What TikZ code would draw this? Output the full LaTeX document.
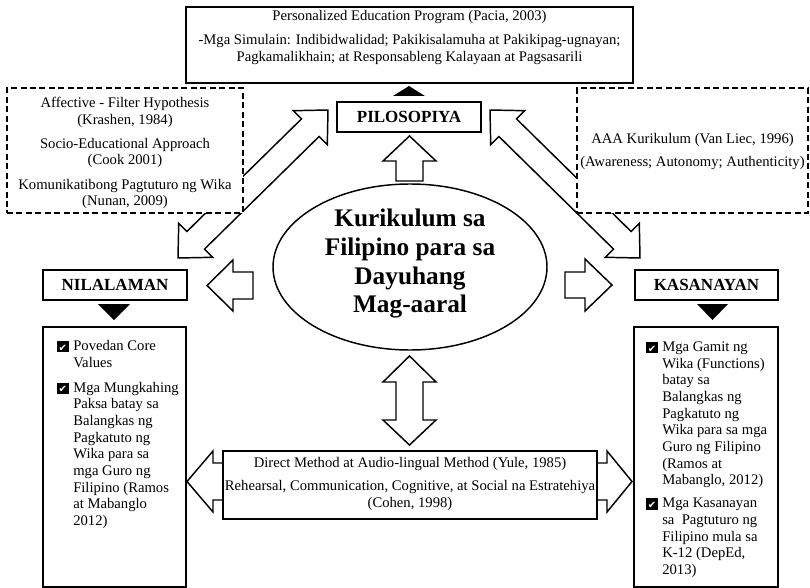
\documentclass[tikz,border=0pt]{standalone}
\usepackage{fontspec}
\setmainfont{Liberation Serif}
\newfontfamily\symfont{DejaVu Sans}
\usetikzlibrary{shapes.geometric}
\newcommand\chk{\makebox[12pt][l]{\makebox[0pt][l]{\raisebox{-1.2pt}{\rule{8.5pt}{8.5pt}}}\makebox[8.5pt][c]{\raisebox{-0.3pt}{\color{white}\symfont\fontsize{7.5}{7.5}\selectfont ✔}}}}
\begin{document}
\begin{tikzpicture}[x=0.75pt,y=-0.75pt,
  box/.style={draw, line width=1.3pt, fill=white, inner sep=0pt},
  dbox/.style={draw, line width=1.3pt, dash pattern=on 4.5pt off 2.6pt, fill=white, inner sep=0pt},
  txt/.style={align=center, inner sep=0pt, font=\fontsize{11}{12.5}\selectfont},
  lbl/.style={box, font=\bfseries\fontsize{12.75}{15}\selectfont, minimum height=22.5pt},
  blk/.style={draw, line width=1.1pt, fill=white, line join=miter},
  tri/.style={fill=black},
  lst/.style={anchor=north west, inner sep=0pt, align=left, font=\fontsize{11}{12.5}\selectfont}]
\fill[white] (0,0) rectangle (810,588);
\useasboundingbox (0,0) rectangle (810,588);

% block arrows
\draw[blk] (328,110) -- (327.3,144.7) -- (319.1,136.5) -- (204.5,249.1) -- (212.7,257.3) -- (178,258) -- (178.7,223.3) -- (186.9,231.5) -- (301.5,118.9) -- (293.3,110.7) -- cycle;
\draw[blk] (490,110) -- (490.7,144.7) -- (498.9,136.5) -- (613.5,249.1) -- (605.3,257.3) -- (640,258) -- (639.3,223.3) -- (631.1,231.5) -- (516.5,118.9) -- (524.7,110.7) -- cycle;
\draw[blk] (409.5,136) -- (436,161) -- (423,161) -- (423,181) -- (396,181) -- (396,161) -- (383,161) -- cycle;
\draw[blk] (409.5,356) -- (436,382) -- (423,382) -- (423,420) -- (436,420) -- (409.5,445) -- (383,420) -- (396,420) -- (396,382) -- (383,382) -- cycle;
\draw[blk] (207,285.5) -- (233,260) -- (233,272) -- (253,272) -- (253,299) -- (233,299) -- (233,311) -- cycle;
\draw[blk] (612,285) -- (585,259) -- (585,272) -- (565,272) -- (565,298) -- (585,298) -- (585,311) -- cycle;
\draw[blk] (187,481.5) -- (213,451) -- (213,463) -- (223,463) -- (223,500) -- (213,500) -- (213,512) -- cycle;
\draw[blk] (632,481.5) -- (607,451) -- (607,463) -- (597,463) -- (597,500) -- (607,500) -- (607,512) -- cycle;

% dashed boxes
\node[dbox, minimum width=177pt, minimum height=93.75pt] (lframe) at (125,150.5) {};
\node[txt] (ltext) at (125,153) {Affective - Filter Hypothesis\\(Krashen, 1984)\\[5.7pt]Socio-Educational Approach\\(Cook 2001)\\[5.7pt]Komunikatibong Pagtuturo ng Wika\\(Nunan, 2009)};
\node[dbox, minimum width=173.25pt, minimum height=93.75pt] (rframe) at (692.5,150.5) {};
\node[txt] (rtext) at (692.5,151.5) {AAA Kurikulum (Van Liec, 1996)\\[4.7pt](Awareness; Autonomy; Authenticity)};

% top box
\node[box, minimum width=335.25pt, minimum height=57pt] (topbox) at (409.5,45) {};
\node[txt] (toptext) at (409.5,37.5) {Personalized Education Program (Pacia, 2003)\\[5.25pt]-Mga Simulain: Indibidwalidad; Pakikisalamuha at Pakikipag-ugnayan;\\Pagkamalikhain; at Responsableng Kalayaan at Pagsasarili};

% labels
\node[lbl, minimum width=108pt] (pil) at (409,117) {PILOSOPIYA};
\node[lbl, minimum width=108pt] (nil) at (115,285) {NILALAMAN};
\node[lbl, minimum width=107.25pt] (kas) at (706.5,285) {KASANAYAN};

% triangles
\fill[tri] (409,86) -- (425,96) -- (393,96) -- cycle;
\fill[tri] (98,304) -- (130,304) -- (114,320) -- cycle;
\fill[tri] (697,304) -- (728,304) -- (712.5,320) -- cycle;

% centre ellipse
\node[draw, ellipse, line width=1.1pt, minimum width=205.5pt, minimum height=124.5pt, inner sep=0pt] (core) at (410,267) {};
\node[align=center, inner sep=0pt, font=\bfseries\fontsize{19}{21.5}\selectfont] (coretext) at (410,264) {Kurikulum sa\\Filipino para sa\\Dayuhang\\Mag-aaral};

% bottom box
\node[box, minimum width=280.5pt, minimum height=51pt] (botbox) at (410,485) {};
\node[txt] (bottext) at (410,484) {Direct Method at Audio-lingual Method (Yule, 1985)\\[4.7pt]Rehearsal, Communication, Cognitive, at Social na Estratehiya\\(Cohen, 1998)};

% content boxes
\node[box, minimum width=107.25pt, minimum height=195pt] (nilbox) at (114.5,457) {};
\node[lst] (nillist) at (57,338.7) {\begin{tabular}{@{}l@{}l@{}}
\chk & Povedan Core\\ & Values\\[6.25pt]
\chk & Mga Mungkahing\\ & Paksa batay sa\\ & Balangkas ng\\ & Pagkatuto ng\\ & Wika para sa\\ & mga Guro ng\\ & Filipino (Ramos\\ & at Mabanglo\\ & 2012)
\end{tabular}};
\node[box, minimum width=108pt, minimum height=195pt] (kasbox) at (706,457) {};
\node[lst] (kaslist) at (646,339.7) {\begin{tabular}{@{}l@{}l@{}}
\chk & Mga Gamit ng\\ & Wika (Functions)\\ & batay sa\\ & Balangkas ng\\ & Pagkatuto ng\\ & Wika para sa mga\\ & Guro ng Filipino\\ & (Ramos at\\ & Mabanglo, 2012)\\[4.7pt]
\chk & Mga Kasanayan\\ & sa\ \ Pagtuturo ng\\ & Filipino mula sa\\ & K-12 (DepEd,\\ & 2013)
\end{tabular}};
\end{tikzpicture}
\end{document}
